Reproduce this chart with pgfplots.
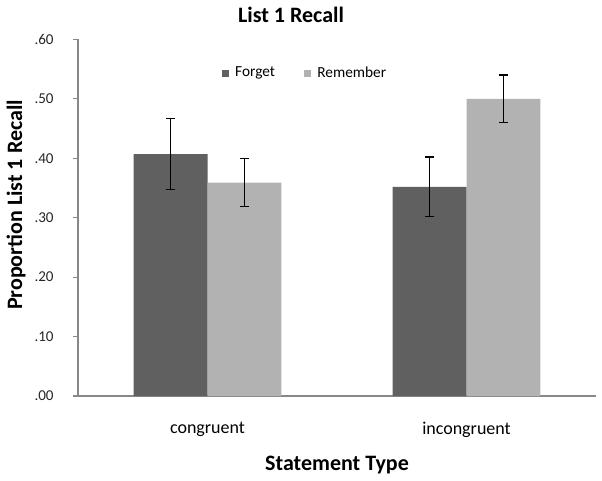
\documentclass[border=0pt]{standalone}
\usepackage{fontspec}
\setmainfont{Carlito}
\usepackage{pgfplots}
\pgfplotsset{compat=1.18}
\definecolor{forget}{HTML}{606060}
\definecolor{remember}{HTML}{B2B2B2}
\definecolor{axisgray}{HTML}{888888}

\begin{document}
\begin{tikzpicture}[x=0.75pt,y=0.75pt]
\path[use as bounding box] (0,0) rectangle (602,480);
\begin{axis}[
    at={(58.5pt,63pt)}, anchor=south west,
    scale only axis, width=388.5pt, height=267.5pt,
    xmin=-0.5, xmax=1.5, ymin=0, ymax=0.6,
    ybar, bar width=0.285,
    axis x line=bottom, axis y line=left,
    axis line style={axisgray, line width=0.9pt, -},
    xtick={0,1}, xticklabels={congruent,incongruent},
    x tick style={draw=none},
    xticklabel style={font=\fontsize{13.5}{16}\selectfont, yshift=-12pt},
    ytick={0,0.1,0.2,0.3,0.4,0.5,0.6},
    yticklabels={.00,.10,.20,.30,.40,.50,.60},
    yticklabel style={font=\fontsize{11.3}{13}\selectfont, xshift=-11pt, text=black!85},
    y tick style={axisgray, line width=0.9pt},
    tick align=outside, major tick length=3.75pt,
    legend columns=2,
    legend style={at={(0.278,0.9055)}, anchor=west, draw=none, inner sep=0pt,
        font=\fontsize{11.5}{13}\selectfont,
        /tikz/every odd column/.append style={column sep=2.5pt},
        /tikz/every even column/.append style={column sep=20pt}},
    error bars/y dir=both, error bars/y explicit,
    error bars/error bar style={black, line width=1pt},
    error bars/error mark options={rotate=90, black, line width=1pt, mark size=3.4pt},
]
\addplot[fill=forget, draw=none, bar shift=-0.1425,
    legend image code/.code={\fill[forget] (0pt,-2.6pt) rectangle (5.2pt,2.6pt);}]
    coordinates {(0,0.407) +- (0,0.060) (1,0.352) +- (0,0.050)};
\addplot[fill=remember, draw=none, bar shift=0.1425,
    legend image code/.code={\fill[remember] (0pt,-2.6pt) rectangle (5.2pt,2.6pt);}]
    coordinates {(0,0.359) +- (0,0.040) (1,0.500) +- (0,0.040)};
\legend{Forget,Remember}
\end{axis}
\node[font=\fontsize{16.5}{20}\selectfont\bfseries] at (291,465) {List 1 Recall};
\node[font=\fontsize{16.5}{20}\selectfont\bfseries, rotate=90] at (16,275) {Proportion List 1 Recall};
\node[font=\fontsize{16.5}{20}\selectfont\bfseries] at (337,15) {Statement Type};
\end{tikzpicture}
\end{document}
